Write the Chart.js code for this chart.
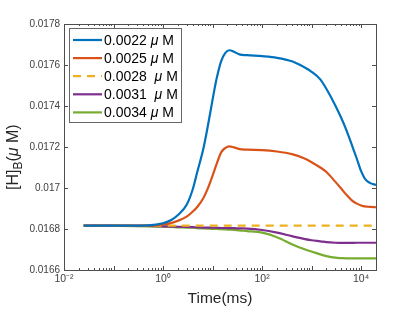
<!DOCTYPE html>
<html>
<head>
<meta charset="utf-8">
<script src="https://cdn.jsdelivr.net/npm/chart.js@4.4.1/dist/chart.umd.min.js"></script>
<style>
  html, body { margin: 0; padding: 0; background: #fff; }
  canvas { display: block; }
</style>
</head>
<body>
<canvas id="hb-chart" width="415" height="312"></canvas>
<script>
// time points (ms), shared by every curve
const timeMs = [0.025, 0.1, 0.5, 1, 1.5, 2, 3, 4, 5, 6.5, 8, 10, 12, 15, 18, 22, 27, 35, 50, 100,
  200, 400, 700, 1000, 1500, 2000, 3000, 4000, 5000, 6500, 8000, 10000, 12000, 15000, 20000]

// [H]_B values (uM)
const hb0022 = [0.016816, 0.016816, 0.016818, 0.016828, 0.016845, 0.016868, 0.016918, 0.016995, 0.017085, 0.017190,
  0.017300, 0.017430, 0.017530, 0.017620, 0.017658, 0.017672, 0.017665, 0.017652, 0.017648, 0.017643,
  0.017635, 0.017618, 0.017590, 0.017567, 0.017530, 0.017483, 0.017404, 0.017340, 0.017285, 0.017210,
  0.017150, 0.017082, 0.017045, 0.017025, 0.017015]
const hb0025 = [0.016816, 0.016816, 0.016816, 0.016822, 0.016830, 0.016840, 0.016860, 0.016885, 0.016910, 0.016950,
  0.016997, 0.017060, 0.017115, 0.017175, 0.017195, 0.017203, 0.017198, 0.017190, 0.017187, 0.017185,
  0.017178, 0.017165, 0.017145, 0.017126, 0.017100, 0.017078, 0.017031, 0.016996, 0.016968, 0.016940,
  0.016925, 0.016915, 0.016910, 0.016908, 0.016906]
const hb0028 = [0.016816, 0.016816, 0.016816, 0.016816, 0.016816, 0.016816, 0.016816, 0.016816, 0.016816, 0.016816,
  0.016816, 0.016816, 0.016816, 0.016816, 0.016816, 0.016816, 0.016816, 0.016816, 0.016816, 0.016816,
  0.016816, 0.016816, 0.016816, 0.016816, 0.016816, 0.016816, 0.016816, 0.016816, 0.016816, 0.016816,
  0.016816, 0.016816, 0.016816, 0.016816, 0.016816]
const hb0031 = [0.016816, 0.016816, 0.016815, 0.016813, 0.016812, 0.016811, 0.016810, 0.016809, 0.016808, 0.016807,
  0.016807, 0.016806, 0.016806, 0.016805, 0.016805, 0.016804, 0.016804, 0.016803, 0.016802, 0.016795,
  0.016782, 0.016765, 0.016752, 0.016745, 0.016740, 0.016736, 0.016733, 0.016732, 0.016732, 0.016732,
  0.016733, 0.016733, 0.016733, 0.016733, 0.016733]
const hb0034 = [0.016816, 0.016815, 0.016813, 0.016811, 0.016810, 0.016808, 0.016807, 0.016806, 0.016804, 0.016803,
  0.016802, 0.016800, 0.016800, 0.016799, 0.016798, 0.016797, 0.016796, 0.016793, 0.016790, 0.016782,
  0.016760, 0.016726, 0.016702, 0.016690, 0.016676, 0.016668, 0.016660, 0.016658, 0.016657, 0.016657,
  0.016657, 0.016657, 0.016657, 0.016657, 0.016657]

const seriesLabels = ['0.0022 ', '0.0025 ', '0.0028  ', '0.0031  ', '0.0034 ']
const xTickValues = [0.01, 1, 100, 10000]
const xTickLabels = ['10⁻²', '10⁰', '10²', '10⁴']

const FONT = "'Liberation Sans', Arial, Helvetica, sans-serif"
const colors = ['#0072BD', '#D95319', '#EDB120', '#7E2F8E', '#77AC30']
const allSeries = [hb0022, hb0025, hb0028, hb0031, hb0034]

const datasets = allSeries.map((vals, i) => ({
  label: seriesLabels[i],
  data: vals.map((v, j) => ({ x: timeMs[j], y: v })),
  borderColor: colors[i],
  borderWidth: 2.2,
  borderDash: i === 2 ? [8, 6] : [],
  pointRadius: 0,
  cubicInterpolationMode: 'monotone',
  fill: false
}))

// box, inward ticks, axis titles and the legend, drawn MATLAB style
const frame = {
  id: 'frame',
  afterDatasetsDraw(chart) {
    const { ctx, chartArea: a, scales: { x, y } } = chart
    ctx.save()
    ctx.strokeStyle = '#4d4d4d'
    ctx.lineWidth = 1
    ctx.beginPath()
    for (let k = -2; k <= 4; k++) {
      for (let m = 1; m <= 9; m++) {
        const v = m * Math.pow(10, k)
        if (v < x.min || v > x.max) continue
        const px = Math.round(x.getPixelForValue(v)) + 0.5
        const len = m === 1 ? 4 : 2
        ctx.moveTo(px, a.bottom); ctx.lineTo(px, a.bottom - len)
        ctx.moveTo(px, a.top); ctx.lineTo(px, a.top + len)
      }
    }
    y.ticks.forEach(t => {
      const py = Math.round(y.getPixelForValue(t.value)) + 0.5
      ctx.moveTo(a.left, py); ctx.lineTo(a.left + 4, py)
      ctx.moveTo(a.right, py); ctx.lineTo(a.right - 4, py)
    })
    ctx.stroke()
    ctx.strokeRect(Math.round(a.left) + 0.5, Math.round(a.top) + 0.5,
      Math.round(a.right - a.left), Math.round(a.bottom - a.top))

    // x title
    ctx.fillStyle = '#262626'
    ctx.font = '15.5px ' + FONT
    ctx.textAlign = 'center'
    ctx.textBaseline = 'alphabetic'
    ctx.fillText('Time(ms)', (a.left + a.right) / 2, 303)

    // y title: [H]_B(μ M)
    ctx.save()
    ctx.translate(18, 190)
    ctx.rotate(-Math.PI / 2)
    ctx.textAlign = 'left'
    let cx = 0
    ctx.font = '16px ' + FONT
    ctx.fillText('[H]', cx, 0); cx += ctx.measureText('[H]').width
    ctx.font = '12px ' + FONT
    ctx.fillText('B', cx, 4); cx += ctx.measureText('B').width
    ctx.font = '16px ' + FONT
    ctx.fillText('(', cx, 0); cx += ctx.measureText('(').width
    ctx.font = 'italic 16px ' + FONT
    ctx.fillText('μ', cx, 0); cx += ctx.measureText('μ').width
    ctx.font = '16px ' + FONT
    ctx.fillText(' M)', cx, 0)
    ctx.restore()

    // legend
    const lx = 69.5, ly = 28.5, lw = 112, lh = 94, row = 18.1
    ctx.fillStyle = '#fff'
    ctx.fillRect(lx, ly, lw, lh)
    ctx.strokeStyle = '#666'
    ctx.strokeRect(lx, ly, lw, lh)
    chart.data.datasets.forEach((ds, i) => {
      const cy = 40 + i * row
      ctx.strokeStyle = ds.borderColor
      ctx.lineWidth = 2.2
      ctx.setLineDash(ds.borderDash)
      ctx.beginPath()
      ctx.moveTo(73, cy); ctx.lineTo(102, cy)
      ctx.stroke()
      ctx.setLineDash([])
      ctx.fillStyle = '#000'
      ctx.textBaseline = 'middle'
      ctx.textAlign = 'left'
      let tx = 104
      ctx.font = '14px ' + FONT
      ctx.fillText(ds.label, tx, cy + 1); tx += ctx.measureText(ds.label).width
      ctx.font = 'italic 14px ' + FONT
      ctx.fillText('μ', tx, cy + 1); tx += ctx.measureText('μ').width
      ctx.font = '14px ' + FONT
      ctx.fillText(' M', tx, cy + 1)
    })
    ctx.restore()
  }
}

const whiteBg = {
  id: 'whiteBg',
  beforeDraw(chart) {
    const { ctx, width, height } = chart
    ctx.save()
    ctx.fillStyle = '#fff'
    ctx.fillRect(0, 0, width, height)
    ctx.restore()
  }
}

new Chart(document.getElementById('hb-chart').getContext('2d'), {
  type: 'line',
  data: { datasets: datasets },
  options: {
    responsive: false,
    animation: false,
    layout: { padding: { top: 24, right: 39, left: 0, bottom: 0 } },
    plugins: { legend: { display: false }, tooltip: { enabled: false } },
    scales: {
      x: {
        type: 'logarithmic',
        min: 0.01,
        max: 20000,
        afterBuildTicks: scale => { scale.ticks = xTickValues.map(v => ({ value: v })) },
        afterFit: scale => { scale.height = 42 },
        grid: { display: false, drawTicks: false },
        border: { display: false },
        ticks: {
          autoSkip: false,
          maxRotation: 0,
          padding: 3,
          color: '#404040',
          font: { family: FONT, size: 10.5 },
          callback: v => xTickLabels[xTickValues.indexOf(v)] || ''
        }
      },
      y: {
        type: 'linear',
        min: 0.0166,
        max: 0.0178,
        afterFit: scale => { scale.width = 64 },
        grid: { display: false, drawTicks: false },
        border: { display: false },
        ticks: {
          stepSize: 0.0002,
          padding: 4,
          color: '#404040',
          font: { family: FONT, size: 10 },
          callback: v => String(Number(v.toFixed(4)))
        }
      }
    }
  },
  plugins: [whiteBg, frame]
})
</script>
</body>
</html>
